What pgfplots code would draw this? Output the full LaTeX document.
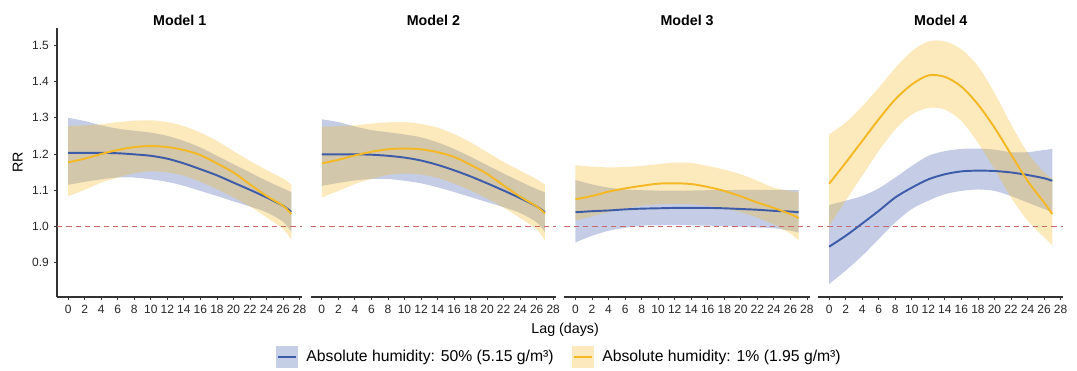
\documentclass[border=0pt]{standalone}
\usepackage{pgfplots}
\pgfplotsset{compat=1.18}
\usepackage{pgfplotstable}
\usepgfplotslibrary{fillbetween}
\usepackage{fontspec}
\setmainfont{Liberation Sans}
\definecolor{bline}{HTML}{3C5BA8}
\definecolor{yline}{HTML}{F5B825}
\definecolor{refred}{HTML}{C96A6A}
\definecolor{axcol}{HTML}{333333}
\definecolor{bfill}{HTML}{C4CEE5}
\definecolor{yfill}{HTML}{FCEABE}

% x b bl bu y yl yu
\pgfplotstableread{
x b bl bu y yl yu
0 1.203 1.115 1.300 1.177 1.083 1.277
2 1.203 1.123 1.291 1.187 1.101 1.279
4 1.203 1.130 1.279 1.200 1.121 1.282
6 1.202 1.135 1.270 1.211 1.135 1.288
8 1.199 1.135 1.264 1.219 1.147 1.292
10 1.195 1.130 1.259 1.222 1.152 1.293
12 1.187 1.123 1.250 1.219 1.149 1.288
14 1.174 1.112 1.236 1.211 1.140 1.277
16 1.158 1.098 1.218 1.197 1.123 1.259
18 1.141 1.084 1.195 1.174 1.103 1.236
20 1.121 1.069 1.172 1.149 1.080 1.208
22 1.101 1.055 1.149 1.116 1.055 1.181
24 1.080 1.039 1.126 1.084 1.025 1.156
26 1.057 1.013 1.105 1.057 0.993 1.132
27 1.040 0.985 1.095 1.034 0.963 1.116
}\modelA
\pgfplotstableread{
x b bl bu y yl yu
0 1.199 1.112 1.296 1.174 1.080 1.275
2 1.199 1.120 1.288 1.184 1.098 1.277
4 1.199 1.127 1.276 1.196 1.117 1.279
6 1.198 1.131 1.266 1.206 1.131 1.284
8 1.195 1.131 1.260 1.213 1.142 1.287
10 1.190 1.126 1.254 1.215 1.146 1.288
12 1.182 1.119 1.246 1.213 1.143 1.283
14 1.170 1.108 1.232 1.205 1.134 1.273
16 1.155 1.095 1.214 1.192 1.118 1.255
18 1.138 1.081 1.192 1.170 1.099 1.232
20 1.119 1.067 1.169 1.145 1.077 1.205
22 1.099 1.053 1.146 1.113 1.052 1.178
24 1.078 1.037 1.124 1.082 1.023 1.154
26 1.055 1.011 1.103 1.055 0.991 1.130
27 1.039 0.984 1.094 1.036 0.962 1.115
}\modelB
\pgfplotstableread{
x b bl bu y yl yu
0 1.039 0.956 1.128 1.075 1.016 1.169
2 1.042 0.974 1.116 1.084 1.028 1.165
4 1.044 0.988 1.107 1.096 1.039 1.163
6 1.047 0.996 1.102 1.105 1.049 1.164
8 1.049 1.002 1.100 1.112 1.057 1.167
10 1.050 1.003 1.099 1.118 1.061 1.172
12 1.051 1.004 1.099 1.119 1.062 1.176
14 1.051 1.003 1.099 1.117 1.061 1.175
16 1.051 1.002 1.100 1.109 1.057 1.167
18 1.050 1.001 1.100 1.098 1.049 1.157
20 1.048 0.999 1.101 1.083 1.039 1.144
22 1.046 0.997 1.101 1.066 1.024 1.126
24 1.043 0.995 1.101 1.051 1.005 1.107
26 1.041 0.988 1.100 1.034 0.980 1.098
27 1.039 0.983 1.100 1.023 0.961 1.095
}\modelC
\pgfplotstableread{
x b bl bu y yl yu
0 0.944 0.841 1.059 1.118 1.002 1.254
2 0.974 0.878 1.071 1.176 1.071 1.287
4 1.008 0.919 1.084 1.236 1.140 1.332
6 1.043 0.965 1.105 1.296 1.208 1.383
8 1.080 1.011 1.135 1.351 1.268 1.438
10 1.107 1.048 1.167 1.392 1.309 1.484
12 1.130 1.071 1.195 1.417 1.327 1.511
14 1.144 1.089 1.208 1.413 1.323 1.511
16 1.152 1.098 1.214 1.386 1.291 1.489
18 1.154 1.102 1.215 1.337 1.231 1.443
20 1.153 1.098 1.212 1.273 1.158 1.369
22 1.149 1.084 1.205 1.199 1.080 1.282
24 1.142 1.066 1.205 1.126 1.016 1.204
26 1.133 1.048 1.211 1.066 0.970 1.149
27 1.126 1.039 1.214 1.034 0.947 1.132
}\modelD

\pgfplotsset{
  panel/.style={
    scale only axis, width=184.1pt, height=201.75pt,
    xmin=-1.35, xmax=28.35, ymin=0.805, ymax=1.548,
    axis x line*=bottom, axis y line*=left,
    axis line style={-, axcol, line width=0.8pt},
    tick align=outside, major tick length=2.6pt,
    tick style={axcol, line width=0.6pt},
    xtick={0,2,...,28},
    ytick={0.9,1.0,1.1,1.2,1.3,1.4,1.5},
    yticklabel style={/pgf/number format/fixed, /pgf/number format/fixed zerofill, /pgf/number format/precision=1},
    /pgf/number format/assume math mode=true,
    ticklabel style={font=\fontsize{9}{11}\selectfont, text=black!85},
    title style={font=\fontsize{10.7}{12}\selectfont\bfseries, anchor=base, at={(axis description cs:0.5,1)}, yshift=-4.3pt},
    clip=true,
  },
  noy/.style={axis y line=none},
}
\newcommand{\drawpanel}[1]{%
  \addplot[name path=bu, draw=none, smooth, forget plot] table[x=x,y=bu] {#1};
  \addplot[name path=bl, draw=none, smooth, forget plot] table[x=x,y=bl] {#1};
  \addplot[fill=bline, fill opacity=0.3, draw=none, forget plot] fill between[of=bu and bl];
  \addplot[name path=yu, draw=none, smooth, forget plot] table[x=x,y=yu] {#1};
  \addplot[name path=yl, draw=none, smooth, forget plot] table[x=x,y=yl] {#1};
  \addplot[fill=yline, fill opacity=0.3, draw=none, forget plot] fill between[of=yu and yl];
  \addplot[refred, dash pattern=on 4pt off 3pt, line width=0.6pt, forget plot] coordinates {(-1.35,1) (28.35,1)};
  \addplot[bline, line width=1.45pt, smooth, forget plot] table[x=x,y=b] {#1};
  \addplot[yline, line width=1.45pt, smooth, forget plot] table[x=x,y=y] {#1};
}

\begin{document}
\begin{tikzpicture}
\begin{axis}[panel, at={(42.75pt,52.5pt)}, anchor=south west, title={Model 1},
  ylabel={RR}, ylabel style={font=\fontsize{10.7}{12}\selectfont, at={(axis description cs:-0.16,0.5)}, anchor=center},
  xlabel={Lag (days)}, xlabel style={font=\fontsize{10.7}{12}\selectfont, at={(axis description cs:2.07,-0.123)}, anchor=center},
  legend style={at={(axis description cs:2.049,-0.223)}, anchor=center, draw=none, fill=none, legend columns=2,
    font=\fontsize{11.8}{13}\selectfont, /tikz/every even column/.append style={column sep=12pt},
    /tikz/every odd column/.append style={column sep=4.5pt}, nodes={inner sep=2pt}},
  legend cell align=left]
\drawpanel{\modelA}
\addlegendimage{legend image code/.code={\path[fill=bfill, draw=none] (0pt,-8pt) rectangle (16pt,8pt); \path[draw=bline, line width=1.45pt] (1.5pt,0pt) -- (14.5pt,0pt);}}
\addlegendentry{Absolute humidity: 50\% (5.15 g/m³)}
\addlegendimage{legend image code/.code={\path[fill=yfill, draw=none] (0pt,-8pt) rectangle (16pt,8pt); \path[draw=yline, line width=1.45pt] (1.5pt,0pt) -- (14.5pt,0pt);}}
\addlegendentry{Absolute humidity: 1\% (1.95 g/m³)}
\end{axis}
\begin{axis}[panel, noy, at={(233pt,52.5pt)}, anchor=south west, title={Model 2}]
\drawpanel{\modelB}
\end{axis}
\begin{axis}[panel, noy, at={(423.25pt,52.5pt)}, anchor=south west, title={Model 3}]
\drawpanel{\modelC}
\end{axis}
\begin{axis}[panel, noy, at={(613.5pt,52.5pt)}, anchor=south west, title={Model 4}]
\drawpanel{\modelD}
\end{axis}
\path (0,0) rectangle (807.75pt,275.25pt);
\end{tikzpicture}
\end{document}
